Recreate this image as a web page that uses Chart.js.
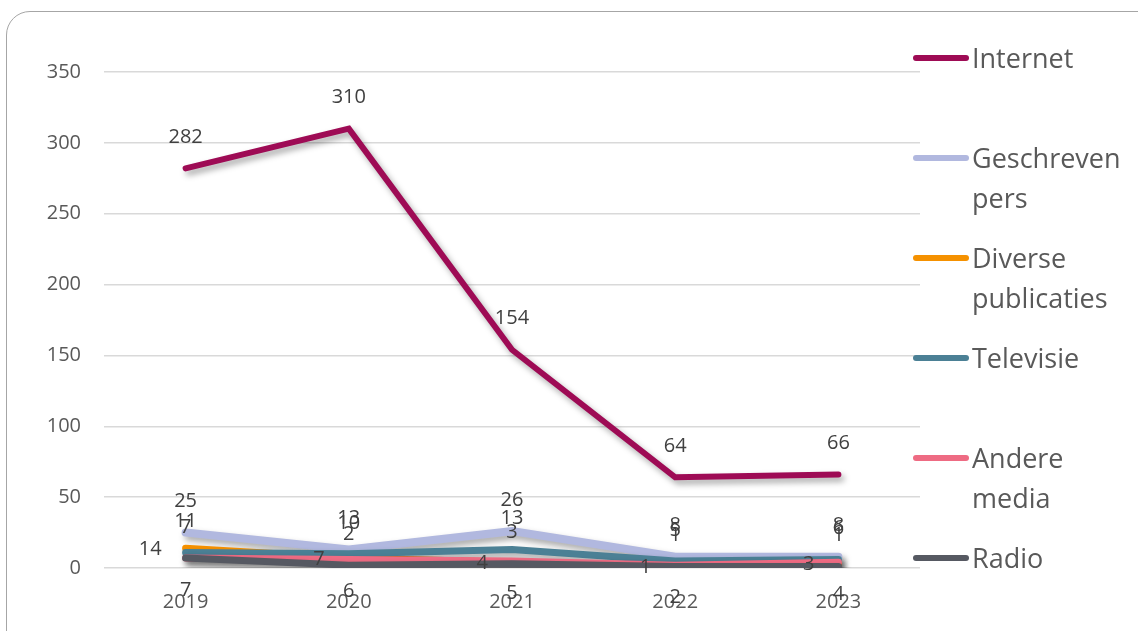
<!DOCTYPE html>
<html>
<head>
<meta charset="utf-8">
<script src="https://cdn.jsdelivr.net/npm/chart.js@4.4.0/dist/chart.umd.min.js"></script>
<style>
    html, body { margin: 0; padding: 0; background: #fff; overflow: hidden; }
    #wrap { position: relative; width: 1138px; height: 631px; }
    #frame {
        position: absolute; left: 6px; top: 11px; width: 1160px; height: 660px;
        border: 1.5px solid #a6a6a6; border-radius: 24px; box-sizing: border-box;
    }
    canvas { position: absolute; left: 0; top: 0; }
</style>
</head>
<body>
<div id="wrap">
    <div id="frame"></div>
    <canvas id="chart" width="1138" height="631"></canvas>
</div>
<script>
// Jaren
const years = ['2019', '2020', '2021', '2022', '2023'];

// Reeksen
const internet = [282, 310, 154, 64, 66];
const geschrevenPers = [25, 13, 26, 8, 8];
const diversePublicaties = [14, 7, 4, 1, 3];
const televisie = [11, 10, 13, 5, 6];
const andereMedia = [7, 6, 5, 2, 4];
const radio = [7, 2, 3, 1, 1];

const yTicks = [0, 50, 100, 150, 200, 250, 300, 350];

const FONT = '"Open Sans", "Noto Sans", sans-serif';

let seriesCount = 0;
function series(label, data, color, width, labelPos) {
    seriesCount++;
    return {
        label: label,
        data: data,
        borderColor: color,
        backgroundColor: color,
        borderWidth: width,
        borderCapStyle: 'round',
        borderJoinStyle: 'miter',
        pointRadius: 0,
        tension: 0,
        // zoals in Excel: latere reeks ligt bovenop
        order: -seriesCount,
        labelPos: labelPos
    };
}

// schaduw onder de lijnen
const shadowPlugin = {
    id: 'shadow',
    beforeDatasetDraw(chart) {
        const ctx = chart.ctx;
        ctx.save();
        ctx.shadowColor = 'rgba(0, 0, 0, 0.35)';
        ctx.shadowBlur = 6;
        ctx.shadowOffsetX = 3;
        ctx.shadowOffsetY = 4;
    },
    afterDatasetDraw(chart) {
        chart.ctx.restore();
    }
};

// waardelabels
const valueLabels = {
    id: 'valueLabels',
    afterDatasetsDraw(chart) {
        const ctx = chart.ctx;
        ctx.save();
        ctx.font = '20px ' + FONT;
        ctx.fillStyle = '#404040';
        ctx.textBaseline = 'middle';
        chart.data.datasets.forEach((ds, i) => {
            const meta = chart.getDatasetMeta(i);
            meta.data.forEach((pt, j) => {
                const txt = String(ds.data[j]);
                if (ds.labelPos === 'left') {
                    ctx.textAlign = 'right';
                    ctx.fillText(txt, pt.x - 24, pt.y + 1);
                } else if (ds.labelPos === 'below') {
                    ctx.textAlign = 'center';
                    ctx.fillText(txt, pt.x, pt.y + 32);
                } else {
                    ctx.textAlign = 'center';
                    ctx.fillText(txt, pt.x, pt.y - 31);
                }
            });
        });
        ctx.restore();
    }
};

// legenda rechts, met afgebroken tekst
const sideLegend = {
    id: 'sideLegend',
    afterDraw(chart) {
        const ctx = chart.ctx;
        ctx.save();
        ctx.font = '27px ' + FONT;
        ctx.textBaseline = 'middle';
        ctx.textAlign = 'left';
        chart.data.datasets.forEach((ds, i) => {
            const y = 58 + i * 100;
            ctx.strokeStyle = ds.borderColor;
            ctx.lineWidth = 6;
            ctx.lineCap = 'round';
            ctx.beginPath();
            ctx.moveTo(916, y);
            ctx.lineTo(966, y);
            ctx.stroke();
            ctx.fillStyle = '#595959';
            ds.label.split(' ').forEach((word, k) => {
                ctx.fillText(word, 972, y + 2 + k * 40);
            });
        });
        ctx.restore();
    }
};

new Chart(document.getElementById('chart'), {
    type: 'line',
    data: {
        labels: years,
        datasets: [
            series('Internet', internet, '#9e0b55', 6, 'above'),
            series('Geschreven pers', geschrevenPers, '#b1b8df', 8, 'above'),
            series('Diverse publicaties', diversePublicaties, '#f59100', 7, 'left'),
            series('Televisie', televisie, '#4b8095', 7, 'above'),
            series('Andere media', andereMedia, '#ee6b83', 7, 'below'),
            series('Radio', radio, '#565962', 7, 'above')
        ]
    },
    options: {
        responsive: false,
        animation: false,
        events: [],
        layout: {
            padding: { left: 0, top: 72, right: 218, bottom: 0 }
        },
        plugins: {
            legend: { display: false },
            tooltip: { enabled: false }
        },
        scales: {
            x: {
                offset: true,
                grid: { display: false },
                border: { display: false },
                ticks: {
                    color: '#595959',
                    font: { family: FONT, size: 20 },
                    padding: 14,
                    maxRotation: 0
                },
                afterFit(scale) { scale.height = 63; }
            },
            y: {
                min: 0,
                max: 350,
                afterBuildTicks(scale) {
                    scale.ticks = yTicks.map(v => ({ value: v }));
                },
                grid: { color: '#d9d9d9', lineWidth: 1.5, drawTicks: false },
                border: { display: false },
                ticks: {
                    color: '#595959',
                    font: { family: FONT, size: 20 },
                    padding: 23
                },
                afterFit(scale) { scale.width = 104; }
            }
        }
    },
    plugins: [shadowPlugin, valueLabels, sideLegend]
});
</script>
</body>
</html>
